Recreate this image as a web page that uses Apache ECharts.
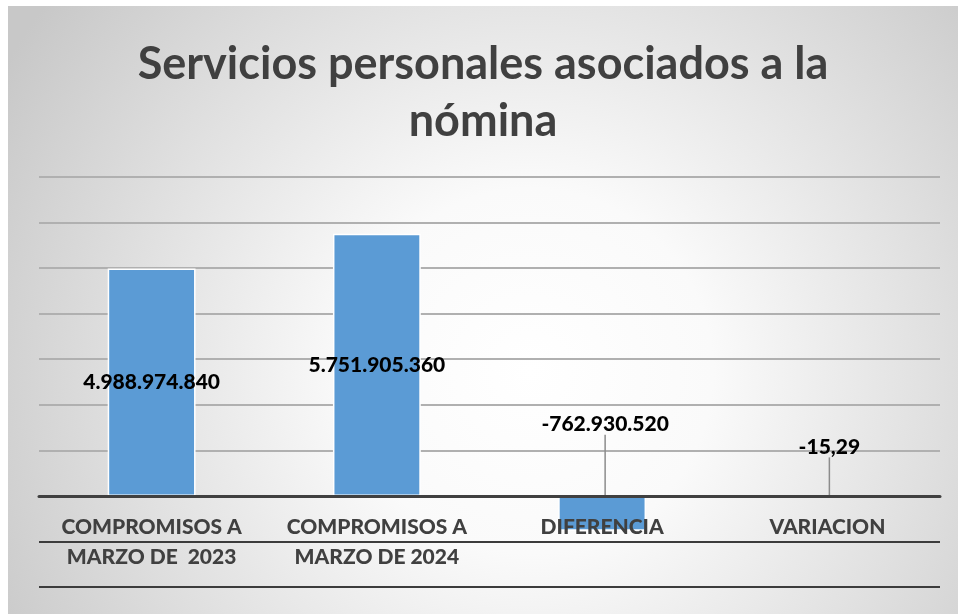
<!DOCTYPE html>
<html><head><meta charset="utf-8">
<script src="https://cdn.jsdelivr.net/npm/echarts@6/dist/echarts.min.js"></script>
<style>html,body{margin:0;padding:0;background:#fff;}#c{position:absolute;left:8px;top:6px;width:950px;height:608px;}</style>
</head><body><div id="c"></div>
<script>
const titleText = 'Servicios personales asociados a la\nnómina';
const categories = ['COMPROMISOS A\nMARZO DE  2023', 'COMPROMISOS A\nMARZO DE 2024', 'DIFERENCIA', 'VARIACION'];
const values = [4988974840, 5751905360, -762930520, -15.29];
const valueLabels = ['4.988.974.840', '5.751.905.360', '-762.930.520', '-15,29'];
const labelShift = [0, 0, -89, -49];
const labelShiftX = [0, 0, 3, 2];

const chart = echarts.init(document.getElementById('c'));
const data = values.map((v, i) => ({
  value: v,
  labelLine: { show: labelShift[i] !== 0 }
}));
chart.setOption({
  backgroundColor: {
    type: 'radial', x: 0.55, y: 0.6, r: 1.0,
    colorStops: [{offset: 0, color: '#ffffff'}, {offset: 0.3, color: '#fafafa'}, {offset: 1, color: '#c8c8c8'}]
  },
  title: {
    text: titleText, left: 'center', top: 25,
    textStyle: { fontFamily: 'Lato', fontWeight: 'bold', fontSize: 45, color: '#404040', lineHeight: 57 }
  },
  grid: { left: 31, right: 18, top: 171, bottom: 27, containLabel: false, outerBoundsMode: 'none' },
  xAxis: {
    type: 'category', data: categories, z: 10, offset: -91.1,
    axisLine: { onZero: false, lineStyle: { color: '#404040', width: 3 } },
    axisTick: { show: false },
    axisLabel: { interval: 0, margin: 16, fontFamily: 'Lato', fontWeight: 900, fontSize: 21, color: '#404040', lineHeight: 30 }
  },
  yAxis: {
    type: 'value', min: -2000000000, max: 7000000000, interval: 1000000000,
    axisLabel: { show: false }, axisLine: { show: false }, axisTick: { show: false },
    splitLine: { lineStyle: { width: 2, color: ['#3c3c3c', '#3c3c3c', '#404040', '#b0b0b0', '#b0b0b0', '#b0b0b0', '#b0b0b0', '#b0b0b0', '#b0b0b0', '#b0b0b0'] } }
  },
  series: [{
    type: 'bar', data: data, barWidth: '39%', z: 2,
    itemStyle: { color: '#5b9bd5', borderColor: '#ffffff', borderWidth: 1.5 },
    label: {
      show: true, position: 'inside',
      formatter: p => '{v|' + valueLabels[p.dataIndex] + '}',
      rich: { v: { fontFamily: 'Lato', fontWeight: 900, fontSize: 21, color: '#000000' } }
    },
    labelLine: { lineStyle: { color: '#8c8c8c', width: 1.5 } },
    labelLayout: p => ({ dy: labelShift[p.dataIndex], dx: labelShiftX[p.dataIndex] })
  }]
});
</script></body></html>
